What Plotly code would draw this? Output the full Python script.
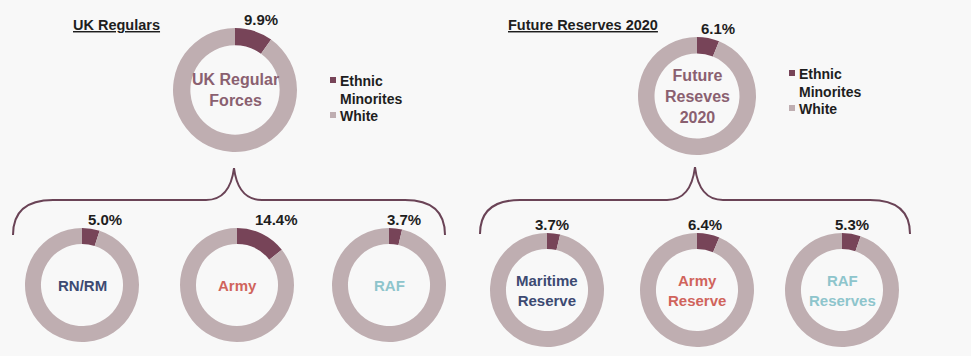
import plotly.graph_objects as go

# ---------------- data ----------------
slice_labels = ["Ethnic Minorites", "White"]
legend_labels = ["Ethnic<br>Minorites", "White"]

group_titles = ["UK Regulars", "Future Reserves 2020"]

top_names = ["UK Regular<br>Forces", "Future<br>Reseves<br>2020"]
top_minority = [9.9, 6.1]

left_names = ["RN/RM", "Army", "RAF"]
left_minority = [5.0, 14.4, 3.7]

right_names = ["Maritime<br>Reserve", "Army<br>Reserve", "RAF<br>Reserves"]
right_minority = [3.7, 6.4, 5.3]

# ---------------- style / layout ----------------
W, H = 971, 356
C_MIN = "#774458"
C_WHITE = "#bfaeb1"
C_BRACE = "#6a4356"
BG = "#f8f8f8"
FONT = "Liberation Sans, Arial, sans-serif"

top_geom = [(235, 90, 62), (697, 96, 59)]          # cx, cy, r (pixels)
top_label_dx = [26, 21]
top_name_color = ["#8a6070", "#8a6070"]

bottom_geom_left = [(82, 285, 57), (237, 285, 57), (389, 285, 57)]
bottom_geom_right = [(547, 290, 57), (697, 290, 57), (842, 290, 57)]
left_label_dx = [23, 39, 15]
right_label_dx = [5, 8, 10]
left_name_colors = ["#3d4a72", "#d0645c", "#8ec5cc"]
right_name_colors = ["#3d4a72", "#d0645c", "#8ec5cc"]

fig = go.Figure()
annotations = []
shapes = []


def add_donut(value, geom, name, name_color, label_dx, name_size):
    cx, cy, r = geom
    fig.add_trace(go.Pie(
        labels=slice_labels,
        values=[value, 100 - value],
        hole=0.72,
        sort=False,
        direction="clockwise",
        rotation=0,
        marker=dict(colors=[C_MIN, C_WHITE], line=dict(width=0)),
        textinfo="none",
        hoverinfo="label+percent",
        showlegend=False,
        domain=dict(x=[(cx - r) / W, (cx + r) / W],
                    y=[1 - (cy + r) / H, 1 - (cy - r) / H]),
    ))
    annotations.append(dict(
        x=cx, y=cy, xref="x", yref="y", text="<b>%s</b>" % name,
        showarrow=False, font=dict(family=FONT, size=name_size, color=name_color),
        align="center"))
    annotations.append(dict(
        x=cx + label_dx, y=cy - r - 9, xref="x", yref="y",
        text="<b>%.1f%%</b>" % value, showarrow=False,
        font=dict(family=FONT, size=15, color="#1e1e1e")))


for i in range(2):
    add_donut(top_minority[i], top_geom[i], top_names[i], top_name_color[i],
              top_label_dx[i], 16)
for i in range(3):
    add_donut(left_minority[i], bottom_geom_left[i], left_names[i],
              left_name_colors[i], left_label_dx[i], 15)
    add_donut(right_minority[i], bottom_geom_right[i], right_names[i],
              right_name_colors[i], right_label_dx[i], 15)

# group titles (underlined)
title_pos = [(71, 25), (506, 25)]
for t, (x, y) in zip(group_titles, title_pos):
    annotations.append(dict(x=x, y=y, xref="x", yref="y", xanchor="left",
                            text="<b><u>%s</u></b>" % t, showarrow=False,
                            font=dict(family=FONT, size=14.5, color="#1e1e1e")))

# legends
legend_pos = [(333, 80), (792, 73)]
for (lx, ly) in legend_pos:
    ys = [ly, ly + 35]
    for lab, col, yy in zip(legend_labels, [C_MIN, C_WHITE], ys):
        shapes.append(dict(type="rect", xref="x", yref="y",
                           x0=lx - 3, x1=lx + 3, y0=yy - 3, y1=yy + 3,
                           fillcolor=col, line=dict(width=0)))
        annotations.append(dict(x=lx + 5, y=yy - 9, xref="x", yref="y",
                                xanchor="left", yanchor="top", align="left",
                                text="<b>%s</b>" % lab, showarrow=False,
                                font=dict(family=FONT, size=14, color="#1e1e1e")))


# braces
def brace(x0, x1, xm, ybar, ytip, yend):
    return ("M %f %f Q %f %f %f %f L %f %f Q %f %f %f %f Q %f %f %f %f "
            "L %f %f Q %f %f %f %f") % (
        x0, yend, x0, ybar, x0 + 40, ybar,
        xm - 28, ybar, xm - 4, ybar, xm, ytip,
        xm + 4, ybar, xm + 28, ybar,
        x1 - 40, ybar, x1, ybar, x1, yend)


shapes.append(dict(type="path", xref="x", yref="y",
                   path=brace(13, 445, 234, 200, 168, 235),
                   line=dict(color=C_BRACE, width=2)))
shapes.append(dict(type="path", xref="x", yref="y",
                   path=brace(480, 910, 695, 200, 167, 234),
                   line=dict(color=C_BRACE, width=2)))

fig.update_layout(
    width=W, height=H,
    margin=dict(l=0, r=0, t=0, b=0),
    paper_bgcolor=BG, plot_bgcolor="rgba(0,0,0,0)",
    xaxis=dict(range=[0, W], visible=False, fixedrange=True),
    yaxis=dict(range=[H, 0], visible=False, fixedrange=True),
    annotations=annotations,
    shapes=shapes,
    showlegend=False,
)

fig.write_html("out.html")
